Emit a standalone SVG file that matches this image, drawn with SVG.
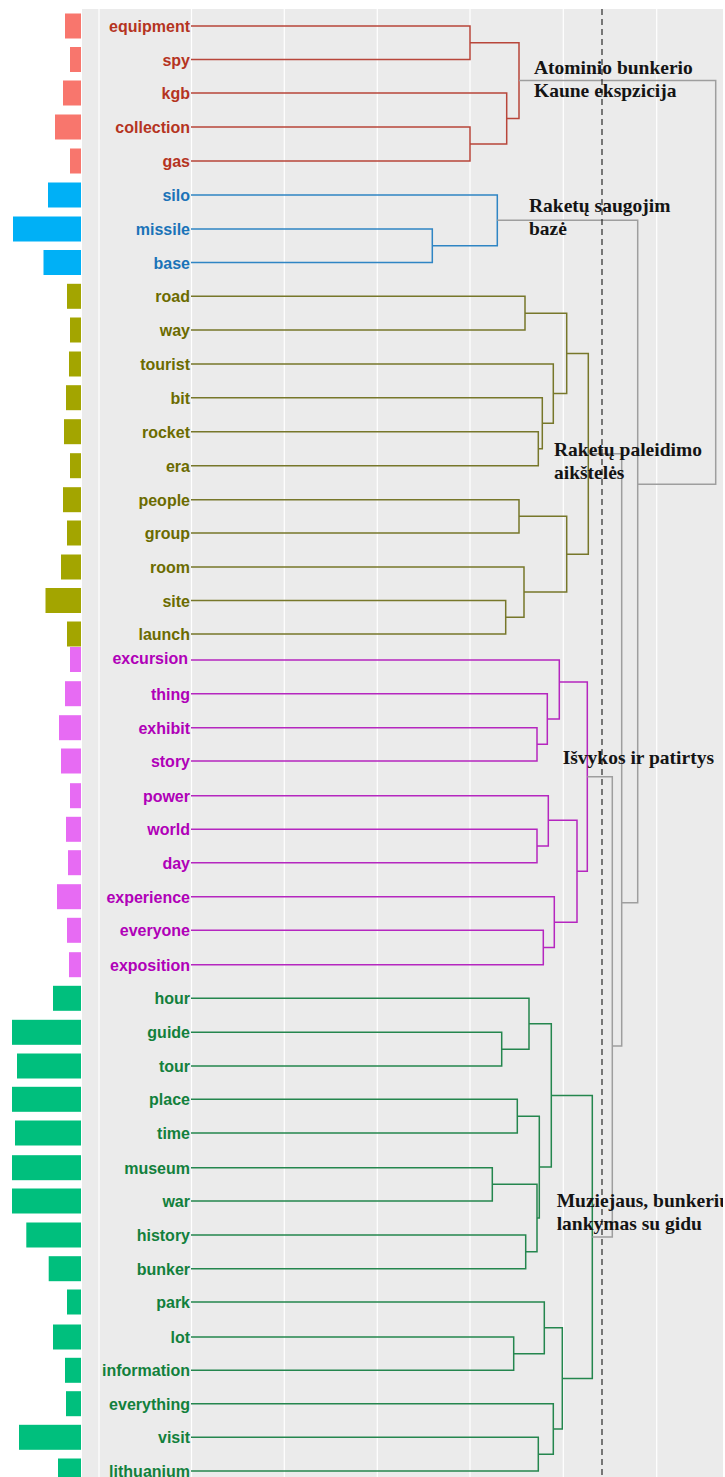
<svg xmlns="http://www.w3.org/2000/svg" width="725" height="1477" viewBox="0 0 725 1477">
<style>
.lbl{font-family:"Liberation Sans",Arial,sans-serif;font-weight:bold;font-size:16px;text-anchor:end}
.cl{font-family:"Liberation Serif","Times New Roman",serif;font-weight:bold;font-size:19.5px;fill:#141414}
.grid{stroke:#ffffff;stroke-width:1.2}
.e{fill:none;stroke-width:1.5;stroke-linejoin:miter}
.red{stroke:#B8463A}.redt{fill:#B5341F}.redb{fill:#F8766D}
.blu{stroke:#2F85C4}.blut{fill:#1A73B8}.blub{fill:#00B0F6}
.oli{stroke:#77772A}.olit{fill:#6B6B00}.olib{fill:#A3A500}
.pnk{stroke:#B526BF}.pnkt{fill:#B000B8}.pnkb{fill:#E76BF3}
.grn{stroke:#24864E}.grnt{fill:#12803C}.grnb{fill:#00BF7D}
.gry{fill:none;stroke:#9E9E9E;stroke-width:1.5}
</style>
<defs>
<clipPath id="panel"><rect x="82" y="9" width="641" height="1468"/></clipPath>
</defs>
<rect width="725" height="1477" fill="#ffffff"/>
<rect id="panel-bg" x="82" y="9" width="641" height="1468" fill="#EBEBEB"/>
<g id="gridlines">
<line class="grid" x1="99" y1="9" x2="99" y2="1477"/>
<line class="grid" x1="191.5" y1="9" x2="191.5" y2="1477"/>
<line class="grid" x1="284.3" y1="9" x2="284.3" y2="1477"/>
<line class="grid" x1="377.3" y1="9" x2="377.3" y2="1477"/>
<line class="grid" x1="470" y1="9" x2="470" y2="1477"/>
<line class="grid" x1="563.3" y1="9" x2="563.3" y2="1477"/>
<line class="grid" x1="656.7" y1="9" x2="656.7" y2="1477"/>
</g>
<g id="bars">
<rect class="redb" x="65" y="13.5" width="16" height="25"/>
<rect class="redb" x="70" y="47" width="11" height="25"/>
<rect class="redb" x="63" y="80.5" width="18" height="25"/>
<rect class="redb" x="55" y="114.5" width="26" height="25"/>
<rect class="redb" x="70" y="148.5" width="11" height="25"/>
<rect class="blub" x="48" y="182.5" width="33" height="25"/>
<rect class="blub" x="13" y="216.5" width="68" height="25"/>
<rect class="blub" x="43.5" y="250" width="37.5" height="25"/>
<rect class="olib" x="67" y="283.8" width="14" height="25"/>
<rect class="olib" x="70" y="317.5" width="11" height="25"/>
<rect class="olib" x="69" y="351.5" width="12" height="25"/>
<rect class="olib" x="66" y="385.2" width="15" height="25"/>
<rect class="olib" x="64" y="419.2" width="17" height="25"/>
<rect class="olib" x="70" y="453.2" width="11" height="25"/>
<rect class="olib" x="63" y="487.2" width="18" height="25"/>
<rect class="olib" x="67" y="520.5" width="14" height="25"/>
<rect class="olib" x="61" y="554.5" width="20" height="25"/>
<rect class="olib" x="45.5" y="588" width="35.5" height="25"/>
<rect class="olib" x="67" y="621.5" width="14" height="25"/>
<rect class="pnkb" x="70" y="647" width="11" height="25"/>
<rect class="pnkb" x="65" y="681.2" width="16" height="25"/>
<rect class="pnkb" x="59" y="715.2" width="22" height="25"/>
<rect class="pnkb" x="61" y="748.5" width="20" height="25"/>
<rect class="pnkb" x="70" y="783.2" width="11" height="25"/>
<rect class="pnkb" x="66" y="816.8" width="15" height="25"/>
<rect class="pnkb" x="68" y="850.2" width="13" height="25"/>
<rect class="pnkb" x="57" y="884.2" width="24" height="25"/>
<rect class="pnkb" x="67" y="917.8" width="14" height="25"/>
<rect class="pnkb" x="69" y="952.2" width="12" height="25"/>
<rect class="grnb" x="53" y="985.8" width="28" height="25"/>
<rect class="grnb" x="12" y="1019.8" width="69" height="25"/>
<rect class="grnb" x="17" y="1053.5" width="64" height="25"/>
<rect class="grnb" x="12" y="1086.8" width="69" height="25"/>
<rect class="grnb" x="15" y="1120.5" width="66" height="25"/>
<rect class="grnb" x="12" y="1155.2" width="69" height="25"/>
<rect class="grnb" x="12" y="1188.5" width="69" height="25"/>
<rect class="grnb" x="26.3" y="1222.5" width="54.7" height="25"/>
<rect class="grnb" x="48.7" y="1256.2" width="32.3" height="25"/>
<rect class="grnb" x="67" y="1289.5" width="14" height="25"/>
<rect class="grnb" x="53" y="1324.5" width="28" height="25"/>
<rect class="grnb" x="65" y="1357.8" width="16" height="25"/>
<rect class="grnb" x="66" y="1391.2" width="15" height="25"/>
<rect class="grnb" x="19" y="1424.8" width="62" height="25"/>
<rect class="grnb" x="58" y="1458.5" width="23" height="25"/>
</g>
<g id="connectors">
<g id="tree-red" class="e red">
<path d="M191 26H470V59.5H191"/>
<path d="M191 127H470V161H191"/>
<path d="M191 93H506.7V144H470"/>
<path d="M470 42.7H519V118.5H506.7"/>
</g>
<g id="tree-blue" class="e blu">
<path d="M191 229H432.3V262.5H191"/>
<path d="M191 195H497.3V245.7H432.3"/>
</g>
<g id="tree-olive" class="e oli">
<path d="M191 296.3H525V330H191"/>
<path d="M191 431.7H538.3V465.7H191"/>
<path d="M191 397.7H542.3V448.7H538.3"/>
<path d="M191 364H553.3V423.2H542.3"/>
<path d="M525 313.2H566.7V393.6H553.3"/>
<path d="M191 499.7H519V533H191"/>
<path d="M191 600.5H505.7V634H191"/>
<path d="M191 567H524V617.3H505.7"/>
<path d="M519 516.3H566.7V592.1H524"/>
<path d="M566.7 353.4H588.3V554.2H566.7"/>
</g>
<g id="tree-pink" class="e pnk">
<path d="M191 727.7H537V761H191"/>
<path d="M191 693.7H547.3V744.3H537"/>
<path d="M191 660H559.3V719H547.3"/>
<path d="M191 829.3H537V862.7H191"/>
<path d="M191 795.7H548.3V846H537"/>
<path d="M191 930.3H543.3V964.7H191"/>
<path d="M191 896.7H554.3V947.5H543.3"/>
<path d="M548.3 820.3H577V922.3H554.3"/>
<path d="M559.3 682H587.3V871.3H577"/>
</g>
<g id="tree-green" class="e grn">
<path d="M191 1032.3H501.7V1066H191"/>
<path d="M191 998.3H529V1049.2H501.7"/>
<path d="M191 1099.3H517.3V1133H191"/>
<path d="M191 1167.7H492.3V1201H191"/>
<path d="M191 1235H525.7V1268.7H191"/>
<path d="M492.3 1184.3H537V1251.8H525.7"/>
<path d="M517.3 1116.2H539.3V1218H537"/>
<path d="M529 1023.7H551.3V1167.1H539.3"/>
<path d="M191 1337H513.7V1370.3H191"/>
<path d="M191 1302H544.3V1353.7H513.7"/>
<path d="M191 1437.3H538.3V1471H191"/>
<path d="M191 1403.7H553.3V1454.2H538.3"/>
<path d="M544.3 1327.8H562.3V1429H553.3"/>
<path d="M551.3 1095.4H592.3V1378.4H562.3"/>
</g>
<g id="tree-top" class="gry">
<path d="M587.3 776.7H612.3V1236.9H592.3"/>
<path d="M588.3 453.8H621.7V1046H612.3"/>
<path d="M497.3 220.3H637.7V902.7H621.7"/>
<path d="M519 80.6H715.7V484.3H637.7"/>
</g>
<line id="cut-line" x1="602" y1="9" x2="602" y2="1477" stroke="#2a2a2a" stroke-width="1.2" stroke-dasharray="6 4"/>
</g>
<g id="leaf-labels" class="lbl">
<text class="redt" x="190" y="32">equipment</text>
<text class="redt" x="190" y="65.5">spy</text>
<text class="redt" x="190" y="99">kgb</text>
<text class="redt" x="190" y="133">collection</text>
<text class="redt" x="190" y="167">gas</text>
<text class="blut" x="190" y="201">silo</text>
<text class="blut" x="190" y="235">missile</text>
<text class="blut" x="190" y="268.5">base</text>
<text class="olit" x="190" y="302.3">road</text>
<text class="olit" x="190" y="336">way</text>
<text class="olit" x="190" y="370">tourist</text>
<text class="olit" x="190" y="403.7">bit</text>
<text class="olit" x="190" y="437.7">rocket</text>
<text class="olit" x="190" y="471.7">era</text>
<text class="olit" x="190" y="505.7">people</text>
<text class="olit" x="190" y="539">group</text>
<text class="olit" x="190" y="573">room</text>
<text class="olit" x="190" y="606.5">site</text>
<text class="olit" x="190" y="640">launch</text>
<text class="pnkt" x="188" y="664">excursion</text>
<text class="pnkt" x="190" y="699.7">thing</text>
<text class="pnkt" x="190" y="733.7">exhibit</text>
<text class="pnkt" x="190" y="767">story</text>
<text class="pnkt" x="190" y="801.7">power</text>
<text class="pnkt" x="190" y="835.3">world</text>
<text class="pnkt" x="190" y="868.7">day</text>
<text class="pnkt" x="190" y="902.7">experience</text>
<text class="pnkt" x="190" y="936.3">everyone</text>
<text class="pnkt" x="190" y="970.7">exposition</text>
<text class="grnt" x="190" y="1004.3">hour</text>
<text class="grnt" x="190" y="1038.3">guide</text>
<text class="grnt" x="190" y="1072">tour</text>
<text class="grnt" x="190" y="1105.3">place</text>
<text class="grnt" x="190" y="1139">time</text>
<text class="grnt" x="190" y="1173.7">museum</text>
<text class="grnt" x="190" y="1207">war</text>
<text class="grnt" x="190" y="1241">history</text>
<text class="grnt" x="190" y="1274.7">bunker</text>
<text class="grnt" x="190" y="1308">park</text>
<text class="grnt" x="190" y="1343">lot</text>
<text class="grnt" x="190" y="1376.3">information</text>
<text class="grnt" x="190" y="1409.7">everything</text>
<text class="grnt" x="190" y="1443.3">visit</text>
<text class="grnt" x="190" y="1477">lithuanium</text>
</g>
<g id="cluster-labels" clip-path="url(#panel)">
<g id="label-atominio"><text class="cl" x="534" y="74">Atominio bunkerio</text><text class="cl" x="534" y="97">Kaune ekspzicija</text></g>
<g id="label-saugojim"><text class="cl" x="529" y="212">Raketų saugojim</text><text class="cl" x="529" y="234.5">bazė</text></g>
<g id="label-paleidimo"><text class="cl" x="554" y="456">Raketų paleidimo</text><text class="cl" x="554" y="478.5">aikštelės</text></g>
<g id="label-isvykos"><text class="cl" x="562.7" y="763.5">Išvykos ir patirtys</text></g>
<g id="label-muziejaus"><text class="cl" x="556.7" y="1207">Muziejaus, bunkerių</text><text class="cl" x="556.7" y="1229.5">lankymas su gidu</text></g>
</g>
</svg>
